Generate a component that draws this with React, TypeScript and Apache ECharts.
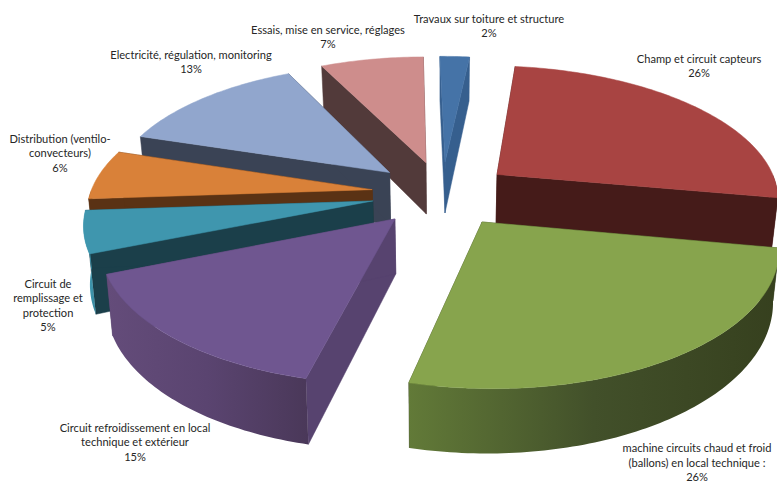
import React, { useEffect, useRef } from "react";
import * as echarts from "echarts";

// Cost shares per work package, clockwise from twelve o'clock.
const categories = [
  "Travaux sur toiture et structure",
  "Champ et circuit capteurs",
  "machine circuits chaud et froid\n(ballons) en local technique :",
  "Circuit refroidissement en local\ntechnique et extérieur",
  "Circuit de\nremplissage et\nprotection",
  "Distribution (ventilo-\nconvecteurs)",
  "Electricité, régulation, monitoring",
  "Essais, mise en service, réglages",
];
const shares = [2, 26, 26, 15, 5, 6, 13, 7];

const topColors = ["#4573a7", "#a84442", "#87a44d", "#6f5690", "#3f96ae", "#d98139", "#91a6cd", "#ce8d8c"];
const wallColors = ["#365f8e", "#451b19", "#36401e", "#57436f", "#1b3f4a", "#5a3214", "#3a4355", "#523a3a"];
const rimLeftColors = ["#365f8e", "#451b19", "#627a38", "#644c7a", "#41a0b8", "#5a3214", "#3a4355", "#523a3a"];
const rimMidColors = ["#365f8e", "#451b19", "#42502a", "#5a4470", "#3d95ac", "#5a3214", "#3a4355", "#523a3a"];
const rimRightColors = ["#365f8e", "#451b19", "#36401e", "#4a3859", "#3a8ba2", "#5a3214", "#3a4355", "#523a3a"];

// Label anchors: centre x and centre y of the first line.
const labelAnchors = [
  [489, 18], [699, 58], [697, 447.5], [135, 427], [48, 283], [60, 138], [191, 54], [328, 29],
];

// Projection of the pie plane onto the page.
const CX = 442;
const CY = 193.5;
const SCALE_X = 282;
const SCALE_Y = 131;
const PERSPECTIVE = 0.155;
const SKEW = 3;
const EXPLODE = 0.25;
const START_DEG = -0.4;
const DEPTH = 53;
const DEPTH_TILT = 3;
const BOTTOM_SHRINK = 0.982;

const rad = (d: number) => (d * Math.PI) / 180;

function project(X: number, Y: number, bottom: boolean): number[] {
  const s = 1 / (1 - PERSPECTIVE * Y);
  const x = CX + SCALE_X * X * s + SKEW * Y;
  const y = CY + SCALE_Y * Y * s;
  if (!bottom) return [x, y];
  return [CX + (x - CX) * BOTTOM_SHRINK, y + DEPTH * s - DEPTH_TILT * X];
}

const total = shares.reduce((a, b) => a + b, 0);
const slices = shares.map((value, index) => {
  const before = shares.slice(0, index).reduce((a, b) => a + b, 0);
  const from = START_DEG + (before / total) * 360;
  const to = from + (value / total) * 360;
  return { index, from, to, mid: (from + to) / 2 };
});
// Painter's order: slices further from the viewer first.
const drawOrder = [...slices].sort((a, b) => -Math.cos(rad(a.mid)) + Math.cos(rad(b.mid)));

function renderSlice(params: any) {
  const { index, from, to, mid } = drawOrder[params.dataIndex];
  const ox = EXPLODE * Math.sin(rad(mid));
  const oy = -EXPLODE * Math.cos(rad(mid));
  const rimPoint = (deg: number, bottom: boolean) =>
    project(ox + Math.sin(rad(deg)), oy - Math.cos(rad(deg)), bottom);
  const arc = (a: number, b: number, bottom: boolean) => {
    const pts: number[][] = [];
    const n = Math.max(2, Math.ceil(Math.abs(b - a)));
    for (let i = 0; i <= n; i++) pts.push(rimPoint(a + ((b - a) * i) / n, bottom));
    return pts;
  };
  const apexTop = project(ox, oy, false);
  const apexBottom = project(ox, oy, true);
  const wall = (deg: number) => ({
    type: "polygon",
    shape: { points: [apexTop, rimPoint(deg, false), rimPoint(deg, true), apexBottom] },
    style: { fill: wallColors[index], stroke: wallColors[index], lineWidth: 0.5 },
  });
  const children: any[] = [wall(from), wall(to)];

  // Only the part of the rim that faces the viewer is drawn.
  const rimFrom = Math.max(from, 90);
  const rimTo = Math.min(to, 270);
  if (rimTo > rimFrom) {
    const upper = arc(rimFrom, rimTo, false);
    const lower = arc(rimFrom, rimTo, true);
    // The shading runs left to right over the whole rim.
    const fill = new echarts.graphic.LinearGradient(0, 0, 1, 0, [
      { offset: 0, color: rimLeftColors[index] },
      { offset: 0.5, color: rimMidColors[index] },
      { offset: 1, color: rimRightColors[index] },
    ]);
    children.push({
      type: "polygon",
      shape: { points: upper.concat(lower.reverse()) },
      style: { fill },
    });
  }
  children.push({
    type: "polygon",
    shape: { points: [apexTop, ...arc(from, to, false)] },
    style: { fill: topColors[index], stroke: topColors[index], lineWidth: 0.5 },
  });
  return { type: "group", children };
}

export default function App() {
  const ref = useRef<HTMLDivElement>(null);
  useEffect(() => {
    document.body.style.margin = "0";
    const chart = echarts.init(ref.current!, undefined, { renderer: "svg" });
    chart.setOption({
      animation: false,
      backgroundColor: "#ffffff",
      series: [
        {
          type: "custom",
          coordinateSystem: "none",
          silent: true,
          data: drawOrder.map((s) => shares[s.index]),
          renderItem: renderSlice,
        },
      ],
      graphic: categories.map((name, i) => ({
        type: "text",
        x: labelAnchors[i][0],
        y: labelAnchors[i][1] - 7,
        silent: true,
        z: 10,
        style: {
          text: `${name}\n${shares[i]}%`,
          fill: "#262626",
          font: '11.1px Lato, "Open Sans", sans-serif',
          lineHeight: 14.4,
          align: "center",
          verticalAlign: "top",
        },
      })),
    });
    return () => chart.dispose();
  }, []);
  return <div ref={ref} style={{ width: 777, height: 483 }} />;
}
